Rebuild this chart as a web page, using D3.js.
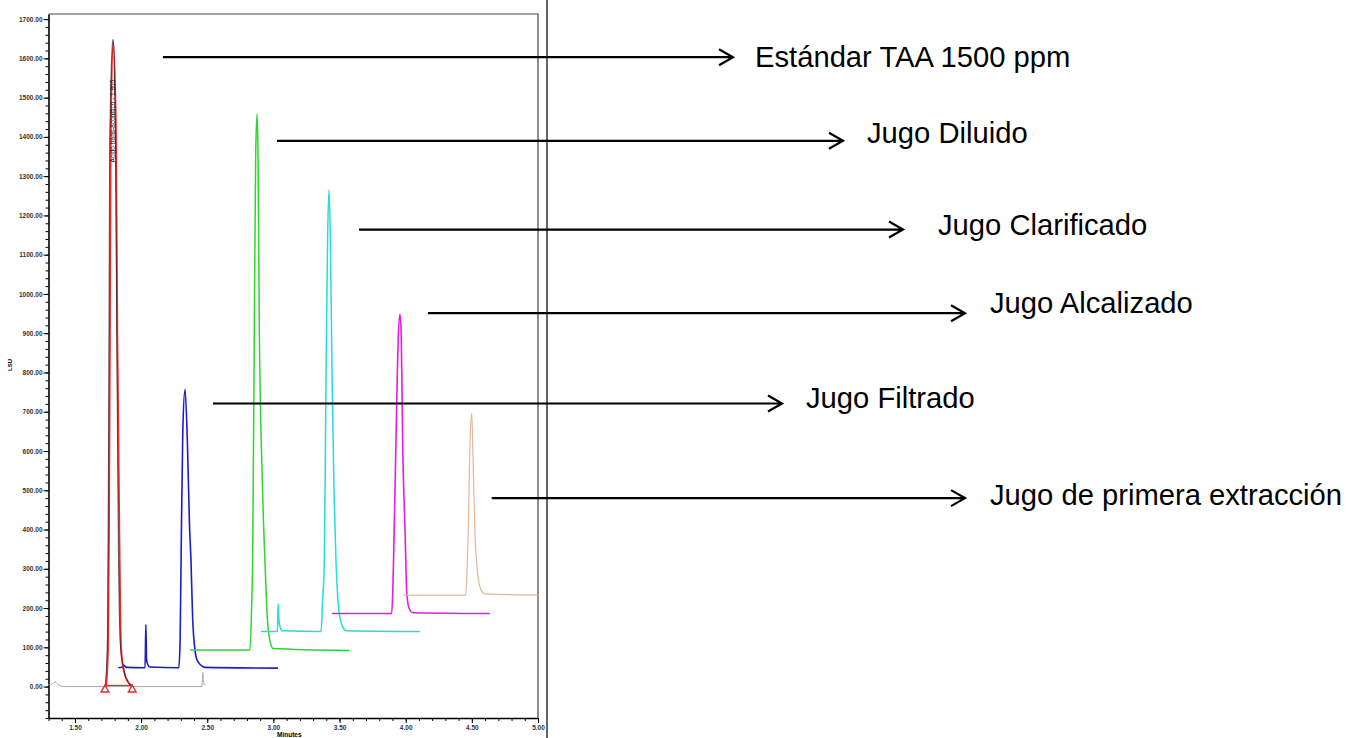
<!DOCTYPE html>
<html>
<head>
<meta charset="utf-8">
<script src="https://cdn.jsdelivr.net/npm/d3@7"></script>
<style>
  body { margin: 0; background: #fff; }
  svg { display: block; }
</style>
</head>
<body>
<svg id="chart"></svg>
<script>
// chromatogram traces, [minutes, LSU]
var grayTrace = [[1.30,5],[1.33,7],[1.35,12],[1.37,6],[1.40,1],[1.45,0],[1.735,0],[1.933,0],[2.46,0],[2.464,20],[2.467,36],[2.471,12],[2.48,4],[2.485,3]];
var blackPeak = [[1.728,0],[1.745,120],[1.756,800],[1.763,1400],[1.788,1648],[1.806,1400],[1.816,900],[1.83,300],[1.843,110],[1.868,45],[1.90,12],[1.933,0]];
var redTrace = [[1.735,0],[1.750,100],[1.757,400],[1.764,900],[1.770,1400],[1.790,1640],[1.810,1400],[1.820,900],[1.835,400],[1.848,100],[1.87,40],[1.905,10],[1.933,3]];
var redBaseline = [[1.727,3],[1.933,3]];
var redMarkers = [[1.727,-8],[1.933,-8]];
var blueTrace = [[1.828,48],[1.86,50],[1.87,54],[1.89,49],[2.03,48],[2.036,158],[2.041,70],[2.048,58],[2.065,50],[2.285,48],[2.295,120],[2.302,320],[2.315,650],[2.332,757],[2.35,620],[2.365,420],[2.377,320],[2.39,170],[2.405,100],[2.42,70],[2.45,55],[2.483,49],[3.035,47]];
var greenTrace = [[2.37,93],[2.823,93],[2.835,200],[2.843,320],[2.856,929],[2.866,1350],[2.876,1458],[2.884,1350],[2.893,929],[2.91,600],[2.925,420],[2.936,320],[2.955,170],[2.975,115],[2.997,97],[3.574,92]];
var cyanTrace = [[2.906,140],[3.03,140],[3.036,211],[3.042,170],[3.05,152],[3.07,142],[3.36,140],[3.372,220],[3.385,320],[3.398,800],[3.41,1150],[3.42,1265],[3.43,1150],[3.443,800],[3.458,500],[3.473,320],[3.49,210],[3.51,165],[3.53,148],[3.554,142],[4.108,140]];
var magentaTrace = [[3.443,186],[3.894,186],[3.902,240],[3.908,320],[3.925,600],[3.945,900],[3.957,948],[3.966,900],[3.978,600],[3.995,400],[4.008,240],[4.025,200],[4.055,188],[4.636,186]];
var tanTrace = [[3.982,233],[4.453,233],[4.462,280],[4.473,400],[4.486,624],[4.499,696],[4.506,624],[4.515,500],[4.523,400],[4.54,300],[4.56,255],[4.599,236],[5.0,233]];

// axis ticks
var yMajor = [0,100,200,300,400,500,600,700,800,900,1000,1100,1200,1300,1400,1500,1600,1700];
var xMajor = [1.5,2.0,2.5,3.0,3.5,4.0,4.5,5.0];

// annotation labels and where each arrow starts (minutes, LSU)
var labels = ["Estándar TAA 1500 ppm","Jugo Diluido","Jugo Clarificado","Jugo Alcalizado","Jugo Filtrado","Jugo de primera extracción"];
var arrowStart = [[2.165,1603],[3.027,1390],[3.647,1164],[4.168,951],[2.543,721],[4.65,480]];
var peakName = "Acido trans-aconítico - 1.805";

drawChart();

function drawChart() {
    var svgWidth = 1360, svgHeight = 738;
    var plotLeft = 48.5, plotRight = 538, plotTop = 14, plotBottom = 718;

    // layout of the annotation column (pixels)
    var arrowTip = [733, 843, 903, 965, 782, 965];
    var labelX = [755, 867, 938, 990, 806, 990];
    var labelDy = [10, 2, 5, 0, 5, 7];

    var svg = d3.select('#chart')
        .attr("width", svgWidth)
        .attr("height", svgHeight);

    var x = d3.scaleLinear().domain([1.3, 5.0]).range([plotLeft, plotRight]);
    var y = d3.scaleLinear().domain([-80, 1713]).range([plotBottom, plotTop]);

    var fmt = d3.format(".2f");
    var axisFont = "'Liberation Sans', Arial, sans-serif";

    // minor ticks first
    var yMinor = d3.range(-80, 1701, 20);
    var xMinor = d3.range(13, 51).map(function(d) { return d / 10; });

    svg.append("g")
        .attr("transform", "translate(" + plotLeft + ",0)")
        .call(d3.axisLeft(y).tickValues(yMinor).tickSize(3).tickSizeOuter(0).tickFormat(""))
        .call(function(g) { g.select(".domain").remove(); });

    svg.append("g")
        .attr("transform", "translate(0," + plotBottom + ")")
        .call(d3.axisBottom(x).tickValues(xMinor).tickSize(3).tickSizeOuter(0).tickFormat(""))
        .call(function(g) { g.select(".domain").remove(); });

    // major axes
    var yAxis = svg.append("g")
        .attr("transform", "translate(" + plotLeft + ",0)")
        .call(d3.axisLeft(y).tickValues(yMajor).tickSize(5).tickPadding(1).tickSizeOuter(0).tickFormat(fmt));

    var xAxis = svg.append("g")
        .attr("transform", "translate(0," + plotBottom + ")")
        .call(d3.axisBottom(x).tickValues(xMajor).tickSize(5).tickPadding(2).tickSizeOuter(0).tickFormat(fmt));

    [yAxis, xAxis].forEach(function(a) {
        a.selectAll("text")
            .style("font-size", "6.5px")
            .style("font-family", axisFont)
            .style("font-weight", "bold")
            .attr("fill", "#333");
        a.select(".domain").attr("stroke-width", 1.6);
    });

    // frame top and right
    svg.append("path")
        .attr("d", "M" + plotLeft + "," + plotTop + "H" + plotRight + "V" + plotBottom)
        .attr("fill", "none")
        .attr("stroke", "#444")
        .attr("stroke-width", 1.2);

    // separator line
    svg.append("line")
        .attr("x1", 547).attr("x2", 547)
        .attr("y1", 0).attr("y2", svgHeight)
        .attr("stroke", "#000")
        .attr("stroke-width", 1.2);

    // axis titles
    svg.append("text")
        .text("LSU")
        .attr("transform", "translate(12,365) rotate(-90)")
        .attr("text-anchor", "middle")
        .style("font-size", "6px")
        .style("font-family", axisFont)
        .style("font-weight", "bold");

    svg.append("text")
        .text("Minutes")
        .attr("x", (plotLeft + plotRight) / 2 - 4)
        .attr("y", 737)
        .attr("text-anchor", "middle")
        .style("font-size", "6.5px")
        .style("font-family", axisFont)
        .style("font-weight", "bold");

    var line = d3.line()
        .curve(d3.curveMonotoneX) // rounds the feet of the peaks
        .x(function(d) { return x(d[0]); })
        .y(function(d) { return y(d[1]); });

    var traces = [
        { data: grayTrace, color: "#a8a8a8", width: 1 },
        { data: blueTrace, color: "#1c1cc8", width: 1.6 },
        { data: greenTrace, color: "#2fd42f", width: 1.5 },
        { data: cyanTrace, color: "#26dcdc", width: 1.5 },
        { data: magentaTrace, color: "#e020e0", width: 1.6 },
        { data: tanTrace, color: "#e2b79e", width: 1.2 },
        { data: redTrace, color: "#ee2a2a", width: 1.9 },
        { data: redBaseline, color: "#ee2a2a", width: 1.2 },
        { data: blackPeak, color: "#222", width: 0.7 }
    ];

    svg.selectAll(".trace")
        .data(traces)
        .enter().append("path")
        .attr("class", "trace")
        .attr("fill", "none")
        .attr("stroke", function(d) { return d.color; })
        .attr("stroke-width", function(d) { return d.width; })
        .attr("stroke-linejoin", "round")
        .attr("d", function(d) { return line(d.data); });

    // integration markers
    svg.selectAll(".marker")
        .data(redMarkers)
        .enter().append("path")
        .attr("class", "marker")
        .attr("d", d3.symbol().type(d3.symbolTriangle).size(26))
        .attr("transform", function(d) { return "translate(" + x(d[0]) + "," + y(d[1]) + ")"; })
        .attr("fill", "none")
        .attr("stroke", "#ee2a2a")
        .attr("stroke-width", 1.4);

    // peak name along the standard peak
    svg.append("text")
        .text(peakName)
        .attr("transform", "translate(" + (x(1.790) + 2) + "," + y(1335) + ") rotate(-90)")
        .style("font-size", "6.5px")
        .style("font-family", axisFont)
        .attr("fill", "#111");

    // arrows with labels
    var ann = svg.selectAll(".ann")
        .data(labels)
        .enter().append("g")
        .attr("class", "ann");

    ann.append("path")
        .attr("d", function(d, i) {
            var sx = x(arrowStart[i][0]), sy = y(arrowStart[i][1]), tx = arrowTip[i];
            return "M" + sx + "," + sy + "H" + tx +
                   "M" + (tx - 14) + "," + (sy - 8) + "L" + tx + "," + sy + "L" + (tx - 14) + "," + (sy + 8);
        })
        .attr("fill", "none")
        .attr("stroke", "#000")
        .attr("stroke-width", 2.2);

    ann.append("text")
        .text(function(d) { return d; })
        .attr("x", function(d, i) { return labelX[i]; })
        .attr("y", function(d, i) { return y(arrowStart[i][1]) + labelDy[i]; })
        .style("font-size", "29.2px")
        .style("font-family", "'Liberation Sans', Arial, sans-serif")
        .attr("fill", "#000");
}
</script>
</body>
</html>
